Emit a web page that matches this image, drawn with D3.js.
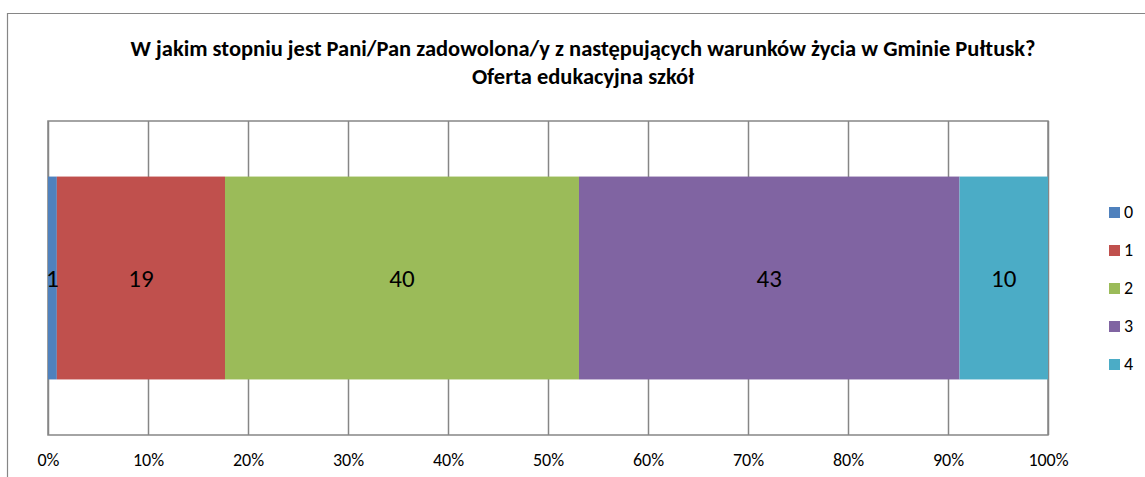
<!DOCTYPE html>
<html>
<head>
<meta charset="utf-8">
<script src="https://cdn.jsdelivr.net/npm/d3@7"></script>
<style>
  body { margin: 0; background: #fff; }
  svg { display: block; font-family: Calibri, Carlito, Lato, sans-serif; }
</style>
</head>
<body>
<svg id="chart" width="1145" height="477"></svg>
<script>
// chart data
const categories = ['0', '1', '2', '3', '4'];
const counts = [1, 19, 40, 43, 10];
const colors = ['#4F81BD', '#C0504D', '#9BBB59', '#8064A2', '#4BACC6'];
const tickValues = [0, 0.1, 0.2, 0.3, 0.4, 0.5, 0.6, 0.7, 0.8, 0.9, 1];
const titleLines = [
  'W jakim stopniu jest Pani/Pan zadowolona/y z następujących warunków życia w Gminie Pułtusk?',
  'Oferta edukacyjna szkół'
];

const svg = d3.select('#chart');
const plot = { left: 48, right: 1048, top: 121, bottom: 435 };

// outer chart border (runs off the right and bottom edge)
svg.append('path')
  .attr('d', 'M7.5,478 L7.5,13.5 L1146,13.5')
  .attr('fill', 'none')
  .attr('stroke', '#868686')
  .attr('stroke-width', 1.2);

// title
const title = svg.append('text')
  .attr('text-anchor', 'middle')
  .attr('font-weight', 'bold')
  .attr('font-size', 22.5)
  .attr('fill', '#000');
title.selectAll('tspan')
  .data(titleLines)
  .enter().append('tspan')
    .attr('x', 583)
    .attr('y', (d, i) => 56 + i * 28)
    .text(d => d);

const total = d3.sum(counts);
let acc = 0;
const segs = counts.map((v, i) => {
  const s = { cat: categories[i], value: v, x0: acc / total, x1: (acc + v) / total, color: colors[i] };
  acc += v;
  return s;
});

const xScale = d3.scaleLinear().domain([0, 1]).range([plot.left, plot.right]);
const yScale = d3.scaleBand().domain(['bar']).range([plot.top, plot.bottom]).paddingInner(0.35).paddingOuter(0.178);

// plot area frame and gridlines
svg.append('rect')
  .attr('x', plot.left).attr('y', plot.top)
  .attr('width', plot.right - plot.left).attr('height', plot.bottom - plot.top)
  .attr('fill', 'none').attr('stroke', '#868686').attr('stroke-width', 1.5);

const xAxis = svg.append('g')
  .attr('transform', `translate(0,${plot.bottom})`)
  .call(d3.axisBottom(xScale)
    .tickValues(tickValues)
    .tickSize(-(plot.bottom - plot.top))
    .tickPadding(18)
    .tickFormat(d3.format('.0%')));
xAxis.select('.domain').remove();
xAxis.selectAll('line').attr('stroke', '#868686').attr('stroke-width', 1.5);
xAxis.attr('font-family', null).attr('font-size', null);
xAxis.selectAll('text')
  .attr('font-size', 18)
  .attr('fill', '#000');

// bars
svg.append('g')
  .selectAll('rect')
  .data(segs)
  .enter().append('rect')
    .attr('x', d => xScale(d.x0))
    .attr('y', yScale('bar'))
    .attr('width', d => xScale(d.x1) - xScale(d.x0))
    .attr('height', yScale.bandwidth())
    .attr('fill', d => d.color);

// data labels
svg.append('g')
  .selectAll('text')
  .data(segs)
  .enter().append('text')
    .attr('x', d => (xScale(d.x0) + xScale(d.x1)) / 2)
    .attr('y', yScale('bar') + yScale.bandwidth() / 2)
    .attr('dy', '0.35em')
    .attr('text-anchor', 'middle')
    .attr('font-size', 25)
    .attr('fill', '#000')
    .text(d => d.value);

// legend
const legend = svg.append('g')
  .selectAll('g')
  .data(categories)
  .enter().append('g')
    .attr('transform', (d, i) => `translate(1109,${212 + i * 38})`);
legend.append('rect')
  .attr('x', 0).attr('y', -5)
  .attr('width', 11).attr('height', 11)
  .attr('fill', (d, i) => colors[i]);
legend.append('text')
  .attr('x', 15).attr('y', 0)
  .attr('dy', '0.35em')
  .attr('font-size', 18)
  .attr('fill', '#000')
  .text(d => d);
</script>
</body>
</html>
